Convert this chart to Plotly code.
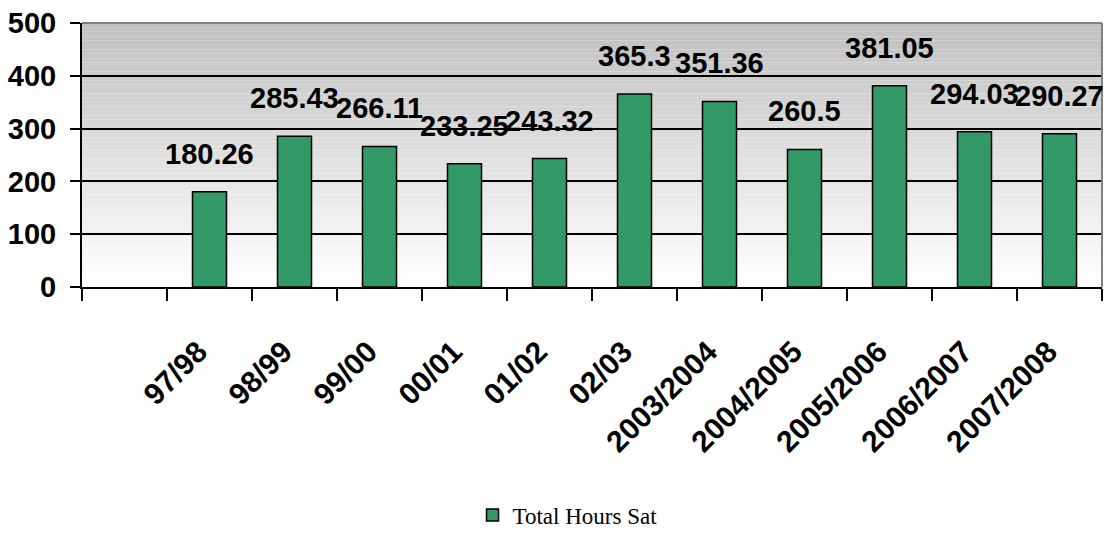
import plotly.graph_objects as go

categories = [" ", "97/98", "98/99", "99/00", "00/01", "01/02", "02/03",
              "2003/2004", "2004/2005", "2005/2006", "2006/2007", "2007/2008"]
values = [None, 180.26, 285.43, 266.11, 233.25, 243.32, 365.3,
          351.36, 260.5, 381.05, 294.03, 290.27]
series_name = "Total Hours Sat"
y_ticks = [0, 100, 200, 300, 400, 500]

SANS = "Liberation Sans Narrow, Arial Narrow, Liberation Sans, Arial, sans-serif"
SERIF = "Liberation Serif, Times New Roman, serif"

fig = go.Figure()
fig.add_trace(go.Bar(
    x=categories, y=values, name=series_name,
    marker=dict(color="#339966", line=dict(color="#000000", width=1.5)),
    width=0.4, showlegend=True,
))

# data labels
for c, v in zip(categories, values):
    if v is None:
        continue
    fig.add_annotation(x=c, y=v, text=f"{v:g}", showarrow=False,
                       yanchor="bottom", yshift=20,
                       font=dict(family=SANS, size=29, color="#000000", weight="bold"))

# gradient plot background
n = 60
for i in range(n):
    t = i / (n - 1)
    g = int(round(255 - (255 - 192) * t))
    fig.add_shape(type="rect", xref="x domain", yref="y domain",
                  x0=0, x1=1, y0=i / n, y1=(i + 1) / n,
                  fillcolor=f"rgb({g},{g},{g})", line=dict(width=0), layer="below")

# top and right gray border
fig.add_shape(type="line", xref="x domain", yref="y domain", x0=0, x1=1, y0=1, y1=1,
              line=dict(color="#808080", width=2))
fig.add_shape(type="line", xref="x domain", yref="y domain", x0=1, x1=1, y0=0, y1=1,
              line=dict(color="#808080", width=2))

fig.update_layout(
    width=1109, height=558,
    margin=dict(l=82, r=7, t=23, b=271, autoexpand=False),
    paper_bgcolor="#ffffff", plot_bgcolor="#ffffff",
    legend=dict(orientation="h", x=0.476, xanchor="center", y=-0.864, yanchor="middle",
                font=dict(family=SERIF, size=23, color="#000000")),
    xaxis=dict(type="category", categoryorder="array", categoryarray=categories,
               range=[-0.5, len(categories) - 0.5], automargin=False,
               tickson="boundaries", ticks="outside", ticklen=12, tickcolor="#000000",
               tickwidth=1.5, showline=True, linecolor="#000000", linewidth=2,
               showgrid=False, tickangle=-45, ticklabelstandoff=33, ticklabelshift=-11,
               tickfont=dict(family=SANS, size=30, color="#000000", weight="bold")),
    yaxis=dict(range=[0, 500], tickvals=y_ticks, ticks="outside", ticklen=10,
               tickcolor="#000000", tickwidth=1.5, showline=True, linecolor="#000000",
               linewidth=2, showgrid=True, gridcolor="#000000", gridwidth=1.5,
               zeroline=False, ticklabelstandoff=8, automargin=False,
               tickfont=dict(family=SANS, size=29, color="#000000", weight="bold")),
)

fig.write_html("out.html", config={"displayModeBar": False},
               post_script="document.body.style.margin='0';")
